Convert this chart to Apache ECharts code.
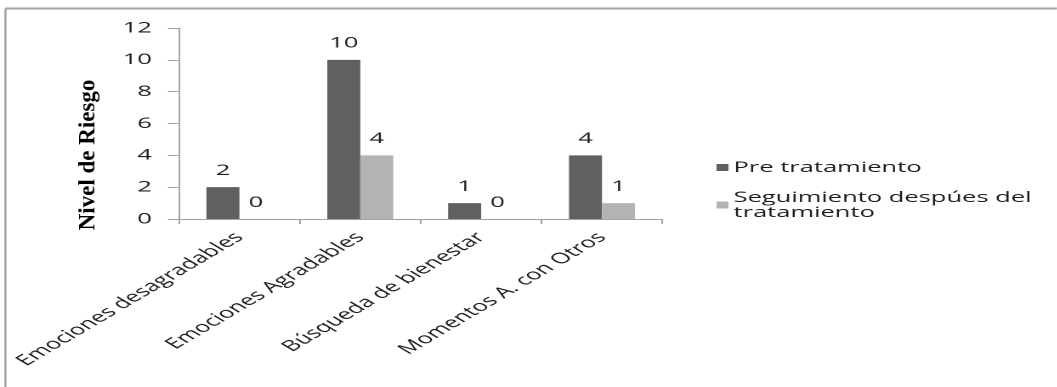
<!DOCTYPE html>
<html lang="es">
<head>
<meta charset="utf-8">
<title>Nivel de Riesgo</title>
<script src="https://cdn.jsdelivr.net/npm/echarts@6/dist/echarts.min.js"></script>
<style>
  html, body { margin: 0; padding: 0; background: #ffffff; overflow: hidden; }
  /* the chart is laid out narrow and widened horizontally, giving the wide lettering of the figure */
  #chart { width: 621.76px; height: 387px; transform: scaleX(1.7); transform-origin: 0 0; }
</style>
</head>
<body>
<div id="chart"></div>
<script>
// Categories and values
const categories = [
  'Emociones desagradables',
  'Emociones Agradables',
  'Búsqueda de bienestar',
  'Momentos A. con Otros'
];
const preTratamiento = [2, 10, 1, 4];
const seguimiento = [0, 4, 0, 1];
const seriesNames = ['Pre tratamiento', 'Seguimiento despúes del tratamiento'];
const yAxisTitle = 'Nivel de Riesgo';
const yMin = 0;
const yMax = 12;
const yStep = 2;

const STRETCH = 1.7;
const W = 1057 / STRETCH;
const H = 387;
const FONT = '"Open Sans", "Noto Sans", sans-serif';
const TEXT = '#1c1c1c';
const AXIS = '#a3a3a3';

const chart = echarts.init(document.getElementById('chart'), null, {
  renderer: 'canvas',
  devicePixelRatio: 2
});

const labelStyle = {
  show: true,
  position: 'top',
  distance: 9,
  color: TEXT,
  fontFamily: FONT,
  fontSize: 15
};

chart.setOption({
  backgroundColor: '#ffffff',
  animation: false,
  grid: {
    left: 179 / STRETCH,
    right: W - 662 / STRETCH,
    top: 28,
    bottom: H - 219,
    containLabel: false,
    outerBoundsMode: 'none'
  },
  legend: {
    orient: 'vertical',
    left: 708 / STRETCH,
    top: 155,
    itemWidth: 7,
    itemHeight: 7,
    itemGap: 15,
    icon: 'rect',
    data: seriesNames,
    formatter: function (name) {
      return name === seriesNames[1] ? 'Seguimiento despúes del\ntratamiento' : name;
    },
    textStyle: {
      color: TEXT,
      fontFamily: FONT,
      fontSize: 15,
      lineHeight: 15,
      padding: [0, 0, 0, -2]
    }
  },
  xAxis: {
    type: 'category',
    data: categories,
    boundaryGap: true,
    axisLine: { show: true, lineStyle: { color: AXIS, width: 1 } },
    axisTick: { show: true, length: 5, alignWithLabel: false, lineStyle: { color: AXIS } },
    axisLabel: {
      interval: 0,
      rotate: 45,
      margin: 16,
      color: TEXT,
      fontFamily: FONT,
      fontSize: 15
    },
    splitLine: { show: false }
  },
  yAxis: {
    type: 'value',
    min: yMin,
    max: yMax,
    interval: yStep,
    axisLine: { show: true, lineStyle: { color: AXIS, width: 1 } },
    axisTick: { show: true, length: 6.5, lineStyle: { color: AXIS } },
    axisLabel: {
      margin: 16,
      color: TEXT,
      fontFamily: FONT,
      fontSize: 15
    },
    splitLine: { show: false }
  },
  series: [
    {
      name: seriesNames[0],
      type: 'bar',
      data: preTratamiento,
      barWidth: '27.3%',
      barGap: '0%',
      itemStyle: { color: '#606060' },
      label: labelStyle
    },
    {
      name: seriesNames[1],
      type: 'bar',
      data: seguimiento,
      barWidth: '27.3%',
      barGap: '0%',
      itemStyle: { color: '#b3b3b3' },
      label: labelStyle
    }
  ],
  graphic: [
    // frame edges along the top and left
    {
      type: 'line',
      silent: true,
      shape: { x1: 3.2, y1: 8.5, x2: W, y2: 8.5 },
      style: { stroke: '#a0a0a0', lineWidth: 2 }
    },
    {
      type: 'line',
      silent: true,
      shape: { x1: 3.2, y1: 8.5, x2: 3.2, y2: H },
      style: { stroke: '#a0a0a0', lineWidth: 1.2 }
    },
    // vertical axis title, kept at its natural proportions
    {
      type: 'text',
      silent: true,
      x: 88 / STRETCH,
      y: 155,
      rotation: Math.PI / 2,
      scaleX: 1,
      scaleY: 1 / STRETCH,
      style: {
        text: yAxisTitle,
        x: 0,
        y: 0,
        align: 'center',
        verticalAlign: 'middle',
        fill: '#000000',
        fontFamily: '"Liberation Serif", "Times New Roman", serif',
        fontWeight: 'bold',
        fontSize: 23
      }
    }
  ]
});
</script>
</body>
</html>
